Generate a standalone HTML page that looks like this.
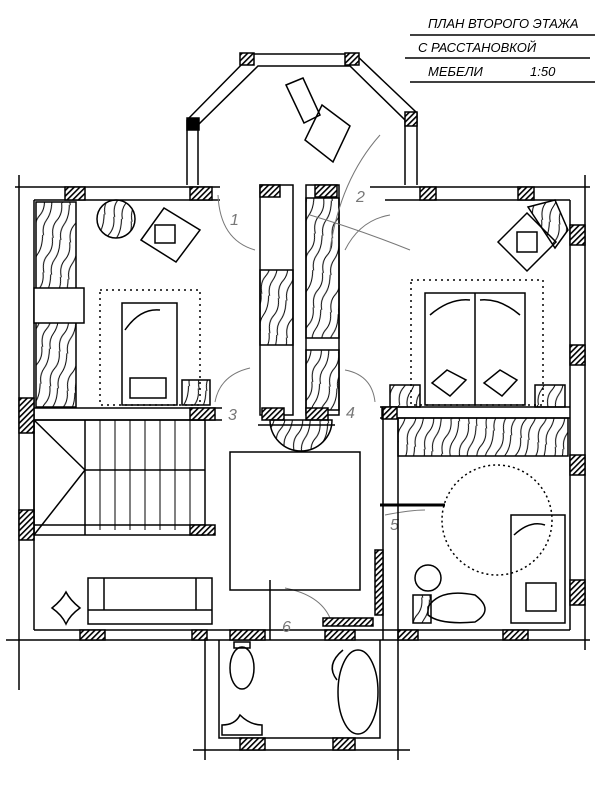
<!DOCTYPE html>
<html><head><meta charset="utf-8"><style>
html,body{margin:0;padding:0;background:#fff;}
svg{display:block}
text{font-family:"Liberation Sans",sans-serif;}
</style></head><body>
<svg width="600" height="800" viewBox="0 0 600 800" xmlns="http://www.w3.org/2000/svg">
<defs>
<pattern id="h" width="4" height="4" patternUnits="userSpaceOnUse" patternTransform="rotate(45)"><rect width="4" height="4" fill="#fff"/><rect width="1.6" height="4" fill="#000"/></pattern>
<pattern id="w" width="18" height="36" patternUnits="userSpaceOnUse" patternTransform="rotate(15)"><path d="M4 0 Q8 10 4 18 T5 36 M12 0 Q15 12 12 20 T13 36" stroke="#000" fill="none" stroke-width="1"/></pattern>
</defs>
<g stroke="#000" fill="none" stroke-width="1.5">
<!-- title -->
<g font-size="13" fill="#000" stroke="none" font-style="italic">
<text x="428" y="28">ПЛАН ВТОРОГО ЭТАЖА</text>
<text x="418" y="52">С РАССТАНОВКОЙ</text>
<text x="428" y="76">МЕБЕЛИ</text>
<text x="530" y="76">1:50</text>
</g>
<line x1="410" y1="35" x2="595" y2="35"/><line x1="405" y1="58" x2="590" y2="58"/><line x1="410" y1="82" x2="595" y2="82"/>
<!-- bay -->
<path d="M187 185 L187 120 L252 54 L355 54 L417 113 L417 185"/>
<path d="M198 185 L198 125 L258 66 L350 66 L405 120 L405 185"/>
<rect x="240" y="53" width="14" height="12" fill="url(#h)"/><rect x="345" y="53" width="14" height="12" fill="url(#h)"/>
<rect x="187" y="118" width="12" height="12" fill="#000"/><rect x="405" y="112" width="12" height="14" fill="url(#h)"/>
<path d="M286 85 L303 78 L320 115 L304 123 Z"/>
<path d="M322 105 L350 126 L333 162 L305 140 Z"/>
<!-- outer walls -->
<line x1="15" y1="187" x2="220" y2="187"/><line x1="34" y1="200" x2="220" y2="200"/>
<line x1="370" y1="187" x2="590" y2="187"/><line x1="385" y1="200" x2="570" y2="200"/>
<line x1="19" y1="175" x2="19" y2="690"/><line x1="34" y1="200" x2="34" y2="630"/>
<line x1="585" y1="175" x2="585" y2="650"/><line x1="570" y1="200" x2="570" y2="630"/>
<line x1="6" y1="640" x2="590" y2="640"/><line x1="34" y1="630" x2="570" y2="630"/>
<rect x="65" y="187" width="20" height="13" fill="url(#h)"/><rect x="190" y="187" width="22" height="13" fill="url(#h)"/>
<rect x="420" y="187" width="16" height="13" fill="url(#h)"/><rect x="518" y="187" width="16" height="13" fill="url(#h)"/>
<rect x="570" y="225" width="15" height="20" fill="url(#h)"/><rect x="570" y="345" width="15" height="20" fill="url(#h)"/><rect x="570" y="455" width="15" height="20" fill="url(#h)"/><rect x="570" y="580" width="15" height="25" fill="url(#h)"/>
<rect x="19" y="398" width="15" height="35" fill="url(#h)"/><rect x="19" y="510" width="15" height="30" fill="url(#h)"/>
<rect x="80" y="630" width="25" height="10" fill="url(#h)"/><rect x="192" y="630" width="15" height="10" fill="url(#h)"/><rect x="230" y="630" width="35" height="10" fill="url(#h)"/><rect x="325" y="630" width="30" height="10" fill="url(#h)"/><rect x="398" y="630" width="20" height="10" fill="url(#h)"/><rect x="503" y="630" width="25" height="10" fill="url(#h)"/>
<!-- left bedroom -->
<rect x="36" y="202" width="40" height="205" fill="url(#w)"/>
<rect x="34" y="288" width="50" height="35" fill="#fff"/>
<circle cx="116" cy="219" r="19" fill="url(#w)"/>
<path d="M141 240 L164 208 L200 230 L176 262 Z"/><rect x="155" y="225" width="20" height="18"/>
<rect x="100" y="290" width="100" height="115" stroke-dasharray="2 4"/>
<rect x="122" y="303" width="55" height="102"/><path d="M125 330 Q140 308 160 310"/>
<rect x="130" y="378" width="36" height="20"/>
<rect x="182" y="380" width="28" height="25" fill="url(#w)"/>
<line x1="34" y1="408" x2="222" y2="408"/><line x1="34" y1="420" x2="222" y2="420"/><rect x="190" y="408" width="25" height="12" fill="url(#h)"/>
<!-- corridor -->
<rect x="260" y="185" width="33" height="230"/><rect x="306" y="185" width="33" height="230"/>
<rect x="260" y="270" width="33" height="75" fill="url(#w)"/>
<rect x="306" y="198" width="33" height="140" fill="url(#w)"/><rect x="306" y="350" width="33" height="60" fill="url(#w)"/>
<rect x="260" y="185" width="20" height="12" fill="url(#h)"/><rect x="315" y="185" width="22" height="12" fill="url(#h)"/>
<rect x="262" y="408" width="22" height="12" fill="url(#h)"/><rect x="306" y="408" width="22" height="12" fill="url(#h)"/>
<path d="M270 420 L332 420 A31 31 0 0 1 270 420 Z" fill="url(#w)"/>
<line x1="258" y1="425" x2="335" y2="425"/>
<g stroke="#777" stroke-width="1">
<path d="M218 195 Q220 240 255 250"/><path d="M330 250 Q340 180 380 135"/><path d="M310 215 Q360 230 410 250"/><path d="M345 250 Q360 220 390 215"/>
<path d="M215 402 Q220 375 250 368"/><path d="M375 402 Q372 375 345 370"/><path d="M385 515 Q410 510 425 510"/><path d="M330 618 Q320 595 285 588"/>
</g>
<g font-size="16" fill="#777" stroke="none" font-style="italic"><text x="230" y="225">1</text><text x="356" y="202">2</text><text x="228" y="420">3</text><text x="346" y="418">4</text><text x="390" y="530">5</text><text x="282" y="632">6</text></g>
<!-- right bedroom -->
<path d="M528 207 L555 200 L568 230 L555 248 Z" fill="url(#w)"/>
<path d="M498 242 L527 213 L556 242 L527 271 Z"/><rect x="517" y="232" width="20" height="20"/>
<rect x="411" y="280" width="132" height="125" stroke-dasharray="2 4"/>
<rect x="425" y="293" width="100" height="112"/><line x1="475" y1="293" x2="475" y2="405"/>
<path d="M430 315 Q450 298 470 300 M520 315 Q500 298 480 300"/>
<path d="M432 383 L447 370 L466 380 L450 396 Z M484 383 L500 370 L517 380 L502 396 Z"/>
<rect x="390" y="385" width="30" height="22" fill="url(#w)"/><rect x="535" y="385" width="30" height="22" fill="url(#w)"/>
<line x1="380" y1="407" x2="570" y2="407"/><line x1="380" y1="418" x2="570" y2="418"/><rect x="382" y="407" width="15" height="12" fill="url(#h)"/>
<rect x="398" y="418" width="170" height="38" fill="url(#w)"/>
<line x1="383" y1="407" x2="383" y2="640"/><line x1="398" y1="418" x2="398" y2="640"/>
<circle cx="497" cy="520" r="55" stroke-dasharray="2 3"/>
<rect x="511" y="515" width="54" height="108"/><path d="M514 535 Q530 520 545 525"/><rect x="526" y="583" width="30" height="28"/>
<circle cx="428" cy="578" r="13"/>
<path d="M428 607 Q440 588 475 595 Q495 610 475 622 Q440 625 428 615 Z"/><rect x="413" y="595" width="18" height="28" fill="url(#w)"/>
<line x1="380" y1="505" x2="445" y2="505" stroke-width="3"/>
<rect x="375" y="550" width="8" height="65" fill="url(#h)"/>
<!-- stairs -->
<rect x="34" y="420" width="171" height="115"/>
<line x1="34" y1="420" x2="85" y2="470"/><line x1="34" y1="535" x2="85" y2="470"/><line x1="85" y1="420" x2="85" y2="535"/>
<line x1="85" y1="470" x2="205" y2="470"/><line x1="34" y1="525" x2="205" y2="525"/>
<g stroke-width="1"><line x1="100" y1="420" x2="100" y2="530"/><line x1="115" y1="420" x2="115" y2="530"/><line x1="130" y1="420" x2="130" y2="530"/><line x1="145" y1="420" x2="145" y2="530"/><line x1="160" y1="420" x2="160" y2="530"/><line x1="175" y1="420" x2="175" y2="530"/><line x1="190" y1="420" x2="190" y2="530"/></g>
<rect x="190" y="525" width="25" height="10" fill="url(#h)"/>
<!-- lower left room -->
<rect x="88" y="578" width="124" height="46"/><line x1="88" y1="610" x2="212" y2="610"/><line x1="104" y1="578" x2="104" y2="610"/><line x1="196" y1="578" x2="196" y2="610"/>
<path d="M52 608 Q62 600 66 592 Q70 600 80 608 Q70 615 66 624 Q62 615 52 608 Z"/>
<!-- central square -->
<rect x="230" y="452" width="130" height="138"/>
<line x1="270" y1="580" x2="270" y2="640"/>
<rect x="323" y="618" width="50" height="8" fill="url(#h)"/>
<!-- bathroom -->
<path d="M205 640 L205 760 M219 640 L219 738 L380 738 L380 640 M398 640 L398 760 M193 750 L410 750"/>
<rect x="240" y="738" width="25" height="12" fill="url(#h)"/><rect x="333" y="738" width="22" height="12" fill="url(#h)"/>
<ellipse cx="242" cy="668" rx="12" ry="21"/><rect x="234" y="642" width="16" height="6"/>
<ellipse cx="358" cy="692" rx="20" ry="42"/><path d="M343 650 Q325 665 337 680"/>
<path d="M222 735 L222 725 Q235 725 240 715 Q250 725 262 725 L262 735 Z"/>
</g>
</svg>
</body></html>
